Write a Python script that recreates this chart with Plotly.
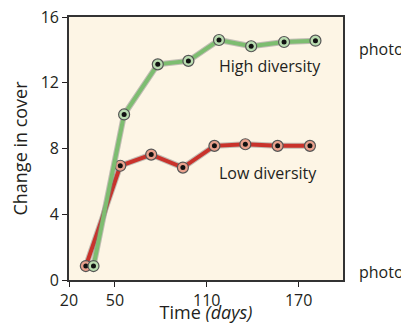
import plotly.graph_objects as go

# values
high_days = [36, 56, 78, 98, 118, 139, 160.5, 181]
high_cover = [0.85, 10.07, 13.12, 13.33, 14.6, 14.22, 14.48, 14.56]

low_days = [31, 53.5, 73.7, 94.4, 115, 135.2, 156.3, 177.4]
low_cover = [0.85, 6.95, 7.63, 6.84, 8.16, 8.26, 8.16, 8.16]

x_ticks = [20, 50, 110, 170]
y_ticks = [0, 4, 8, 12, 16]

FONT = "Open Sans"
INK = "#231f20"

fig = go.Figure()


def add_series(days, cover, line_color, ring_color):
    # soft grey edge under the coloured line
    fig.add_trace(go.Scatter(x=days, y=cover, mode="lines",
                             line=dict(color="rgba(120,120,120,0.45)", width=6),
                             hoverinfo="skip"))
    fig.add_trace(go.Scatter(x=days, y=cover, mode="lines+markers",
                             line=dict(color=line_color, width=4),
                             marker=dict(size=11, color=ring_color,
                                         line=dict(color="#555555", width=1.2))))
    fig.add_trace(go.Scatter(x=days, y=cover, mode="markers",
                             marker=dict(size=5, color="#111111"),
                             hoverinfo="skip"))


add_series(low_days, low_cover, "#c9322b", "#e9a08c")
add_series(high_days, high_cover, "#7dbd70", "#b9dcb0")

fig.add_annotation(x=151, y=13.0, xref="x", yref="y", text="High diversity",
                   showarrow=False, font=dict(family=FONT, size=16, color=INK),
                   xanchor="center", yanchor="middle")
fig.add_annotation(x=150, y=6.5, xref="x", yref="y", text="Low diversity",
                   showarrow=False, font=dict(family=FONT, size=16, color=INK),
                   xanchor="center", yanchor="middle")

# caption text running off the right edge, as in the source figure
for yy in [0.878, 0.03]:
    fig.add_annotation(x=1.05, y=yy, xref="paper", yref="paper", text="photos",
                       showarrow=False, xanchor="left", yanchor="middle",
                       font=dict(family=FONT, size=16, color=INK))

fig.update_xaxes(range=[20, 199], tickvals=x_ticks, ticks="outside", ticklen=5,
                 tickcolor=INK, tickwidth=1.2, showline=True, linecolor="#333333",
                 linewidth=1.6, mirror=True, showgrid=False, zeroline=False,
                 automargin=False, ticklabeloverflow="allow",
                 tickfont=dict(family=FONT, size=16, color=INK),
                 title=dict(text="Time <i>(days)</i>", standoff=1,
                            font=dict(family=FONT, size=18, color=INK)))
fig.update_yaxes(range=[0, 16], tickvals=y_ticks, ticks="outside", ticklen=5,
                 tickcolor=INK, tickwidth=1.2, showline=True, linecolor="#333333",
                 linewidth=1.6, mirror=True, showgrid=False, zeroline=False,
                 automargin=False, ticklabeloverflow="allow",
                 tickfont=dict(family=FONT, size=16, color=INK),
                 title=dict(text="Change in cover", standoff=10,
                            font=dict(family=FONT, size=18, color=INK)))

# page body adds an 8px margin, so the figure is sized to fit inside the window
fig.update_layout(width=401, height=316, showlegend=False,
                  margin=dict(l=61, r=66, t=9, b=44),
                  paper_bgcolor="white", plot_bgcolor="#fdf5e5")

fig.write_html("out.html")
